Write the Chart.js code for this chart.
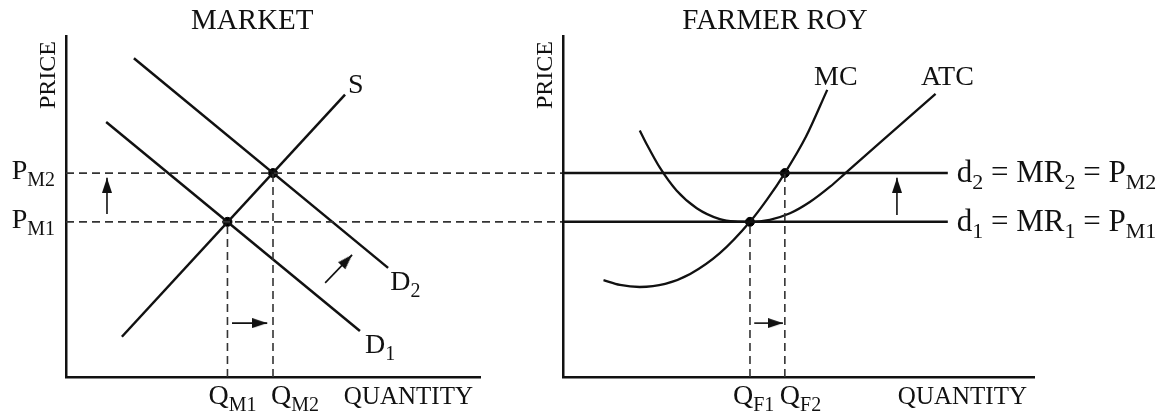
<!DOCTYPE html>
<html>
<head>
<meta charset="utf-8">
<script src="https://cdn.jsdelivr.net/npm/chart.js@4.4.1/dist/chart.umd.min.js"></script>
<style>
  html, body { margin: 0; padding: 0; background: #fff; }
  #wrap { position: relative; width: 1161px; height: 416px; overflow: hidden; }
  #marketChart { position: absolute; left: 0; top: 0; }
  #farmChart { position: absolute; left: 500px; top: 0; }
</style>
</head>
<body>
<div id="wrap">
  <canvas id="marketChart" width="570" height="416"></canvas>
  <canvas id="farmChart" width="661" height="416"></canvas>
</div>
<script>
// ---- MARKET (both panels use price 0-100, quantity 0-100) ----
const priceTicks = [45.5, 59.8];                 // P_M1, P_M2
const marketPriceLabels = ['P_{M1}', 'P_{M2}'];
const marketQtyTicks = [39, 50];                 // Q_M1, Q_M2
const marketQtyLabels = ['Q_{M1}', 'Q_{M2}'];
const supplyS = [{ x: 13.5, y: 11.8 }, { x: 67.4, y: 82.8 }];
const demandD1 = [{ x: 9.7, y: 74.8 }, { x: 71, y: 13.5 }];
const demandD2 = [{ x: 16.4, y: 93.5 }, { x: 77.8, y: 32 }];
const marketCurveLabels = ['S', 'D_{2}', 'D_{1}'];
const marketCurveLabelAt = [{ x: 68.1, y: 83.3 }, { x: 78.3, y: 25.5 }, { x: 72.2, y: 7 }];
const marketArrows = [
    [{ x: 9.9, y: 47.8 }, { x: 9.9, y: 58.4 }],
    [{ x: 62.6, y: 27.6 }, { x: 69.1, y: 35.8 }],
    [{ x: 40.1, y: 15.8 }, { x: 48.6, y: 15.8 }]
];
const marketDashEnd = 120; // price guides run on to the farm's price axis

// ---- FARMER ROY ----
const farmQtyTicks = [39.7, 47.1];               // Q_F1, Q_F2
const farmQtyLabels = ['Q_{F1}', 'Q_{F2}'];
const mcCurve = [
    { x: 8.6, y: 28.4 }, { x: 12.1, y: 27.0 }, { x: 16.3, y: 26.4 }, { x: 21.7, y: 27.3 },
    { x: 27.0, y: 30.2 }, { x: 33.3, y: 36.3 }, { x: 39.7, y: 45.5 }, { x: 43.3, y: 52.0 },
    { x: 47.1, y: 59.8 }, { x: 51.6, y: 70.5 }, { x: 56.1, y: 84.2 }
];
const atcCurve = [
    { x: 16.3, y: 72.3 }, { x: 17.8, y: 68.2 }, { x: 20.6, y: 61.3 }, { x: 24.1, y: 54.7 },
    { x: 28.4, y: 49.5 }, { x: 33.3, y: 46.3 }, { x: 36.5, y: 45.6 }, { x: 39.7, y: 45.5 },
    { x: 43.9, y: 46.1 }, { x: 48.2, y: 48.0 }, { x: 52.4, y: 51.3 }, { x: 56.7, y: 55.8 },
    { x: 59.9, y: 59.7 }, { x: 67.3, y: 68.7 }, { x: 79.1, y: 83.0 }
];
const farmPriceLineEnd = 81.7;
const farmPriceLabels = ['d_{1} = MR_{1} = P_{M1}', 'd_{2} = MR_{2} = P_{M2}'];
const farmCurveLabels = ['MC', 'ATC'];
const farmCurveLabelAt = [{ x: 53.3, y: 85.6 }, { x: 76, y: 85.6 }];
const farmArrows = [
    [{ x: 70.9, y: 47.5 }, { x: 70.9, y: 58.4 }],
    [{ x: 40.6, y: 15.8 }, { x: 46.7, y: 15.8 }]
];

const FONT = "'Liberation Serif', 'Times New Roman', serif";
const INK = '#111';
const font = size => size + 'px ' + FONT;

// "P_{M1}" -> [['P', false], ['M1', true]]
function parseRich(str) {
    const segs = [];
    const re = /_\{([^}]*)\}/g;
    let last = 0, m;
    while ((m = re.exec(str))) {
        if (m.index > last) segs.push([str.slice(last, m.index), false]);
        segs.push([m[1], true]);
        last = re.lastIndex;
    }
    if (last < str.length) segs.push([str.slice(last), false]);
    return segs;
}

function drawRich(ctx, str, x, y, align, size = 28, subSize = 20) {
    const segs = parseRich(str);
    let w = 0;
    segs.forEach(([t, sub]) => { ctx.font = font(sub ? subSize : size); w += ctx.measureText(t).width; });
    let cx = align === 'right' ? x - w : align === 'center' ? x - w / 2 : x;
    ctx.textAlign = 'left';
    ctx.textBaseline = 'alphabetic';
    ctx.fillStyle = INK;
    segs.forEach(([t, sub]) => {
        ctx.font = font(sub ? subSize : size);
        ctx.fillText(t, cx, sub ? y + 7 : y);
        cx += ctx.measureText(t).width;
    });
}

function drawPanelText(chart, title) {
    const { ctx, chartArea: a } = chart;
    ctx.save();
    drawRich(ctx, title, a.left + a.width * 0.45, a.top - 7, 'center', 29);
    drawRich(ctx, 'QUANTITY', a.right - 7, a.bottom + 27, 'right', 25);
    ctx.translate(a.left - 11, a.top + 39);
    ctx.rotate(-Math.PI / 2);
    drawRich(ctx, 'PRICE', 0, 0, 'center', 24);
    ctx.restore();
}

// arrow head: tip sits on the data point, body trails behind
function makeArrowHead(len, width) {
    const c = document.createElement('canvas');
    c.width = width;
    c.height = len * 2;
    const g = c.getContext('2d');
    g.fillStyle = INK;
    g.beginPath();
    g.moveTo(width / 2, len);
    g.lineTo(width, len * 2);
    g.lineTo(0, len * 2);
    g.closePath();
    g.fill();
    return c;
}
const arrowHead = makeArrowHead(15, 10);

function headAngle(chart, pts) {
    const { x, y } = chart.scales;
    const dx = x.getPixelForValue(pts[1].x) - x.getPixelForValue(pts[0].x);
    const dy = y.getPixelForValue(pts[1].y) - y.getPixelForValue(pts[0].y);
    return Math.atan2(dx, -dy) * 180 / Math.PI;
}

const solid = (data, width = 2.5, extra = {}) => ({
    data, showLine: true, borderColor: INK, borderWidth: width, pointRadius: 0, ...extra
});
const dashed = (data) => ({
    data, showLine: true, borderColor: '#333', borderWidth: 1.6, borderDash: [8, 5], pointRadius: 0, clip: false
});
const arrow = (pts) => ({
    data: pts, showLine: true, borderColor: INK, borderWidth: 1.6,
    pointRadius: c => c.dataIndex === 1 ? 6 : 0,
    pointStyle: c => c.dataIndex === 1 ? arrowHead : 'circle',
    pointRotation: c => headAngle(c.chart, pts)
});
const dots = (data) => ({
    data, showLine: false, pointRadius: 4.5, pointBackgroundColor: '#000', pointBorderColor: '#000'
});

function panelOptions(padding) {
    const axis = {
        type: 'linear', min: 0, max: 100,
        grid: { display: false, drawTicks: false },
        ticks: { display: false },
        border: { display: true, color: INK, width: 2.5 }
    };
    return {
        responsive: false,
        animation: false,
        events: [],
        layout: { padding },
        plugins: { legend: { display: false }, tooltip: { enabled: false } },
        scales: { x: { ...axis, position: 'bottom' }, y: { ...axis, position: 'left' } }
    };
}

// ---------- MARKET ----------
const marketDots = marketQtyTicks.map((q, i) => ({ x: q, y: priceTicks[i] }));
new Chart(document.getElementById('marketChart'), {
    type: 'scatter',
    data: {
        datasets: [
            ...priceTicks.map(p => dashed([{ x: 0, y: p }, { x: marketDashEnd, y: p }])),
            ...marketDots.map(d => dashed([{ x: d.x, y: 0 }, { x: d.x, y: d.y }])),
            solid(supplyS), solid(demandD1), solid(demandD2),
            ...marketArrows.map(arrow),
            dots(marketDots)
        ]
    },
    options: panelOptions({ left: 66, top: 36, right: 90, bottom: 39 }),
    plugins: [{
        id: 'marketText',
        afterDraw(chart) {
            const { ctx, scales: { x, y }, chartArea: a } = chart;
            drawPanelText(chart, 'MARKET');
            priceTicks.forEach((p, i) => drawRich(ctx, marketPriceLabels[i], a.left - 11, y.getPixelForValue(p) + 6, 'right'));
            drawRich(ctx, marketQtyLabels[0], x.getPixelForValue(marketQtyTicks[0]) - 19, a.bottom + 27, 'left');
            drawRich(ctx, marketQtyLabels[1], x.getPixelForValue(marketQtyTicks[1]) - 2, a.bottom + 27, 'left');
            marketCurveLabels.forEach((t, i) => drawRich(ctx, t, x.getPixelForValue(marketCurveLabelAt[i].x), y.getPixelForValue(marketCurveLabelAt[i].y), 'left'));
        }
    }]
});

// ---------- FARMER ROY ----------
const farmDots = farmQtyTicks.map((q, i) => ({ x: q, y: priceTicks[i] }));
new Chart(document.getElementById('farmChart'), {
    type: 'scatter',
    data: {
        datasets: [
            ...farmDots.map(d => dashed([{ x: d.x, y: 0 }, { x: d.x, y: d.y }])),
            ...priceTicks.map(p => solid([{ x: 0, y: p }, { x: farmPriceLineEnd, y: p }])),
            solid(mcCurve, 2.3, { cubicInterpolationMode: 'monotone' }),
            solid(atcCurve, 2.3, { cubicInterpolationMode: 'monotone' }),
            ...farmArrows.map(arrow),
            dots(farmDots)
        ]
    },
    options: panelOptions({ left: 63, top: 36, right: 127, bottom: 39 }),
    plugins: [{
        id: 'farmText',
        afterDraw(chart) {
            const { ctx, scales: { x, y }, chartArea: a } = chart;
            drawPanelText(chart, 'FARMER ROY');
            priceTicks.forEach((p, i) => drawRich(ctx, farmPriceLabels[i], x.getPixelForValue(farmPriceLineEnd) + 9, y.getPixelForValue(p) + 9, 'left', 31, 22));
            drawRich(ctx, farmQtyLabels[0], x.getPixelForValue(farmQtyTicks[0]) - 17, a.bottom + 27, 'left');
            drawRich(ctx, farmQtyLabels[1], x.getPixelForValue(farmQtyTicks[1]) - 5, a.bottom + 27, 'left');
            farmCurveLabels.forEach((t, i) => drawRich(ctx, t, x.getPixelForValue(farmCurveLabelAt[i].x), y.getPixelForValue(farmCurveLabelAt[i].y), 'left'));
        }
    }]
});
</script>
</body>
</html>
